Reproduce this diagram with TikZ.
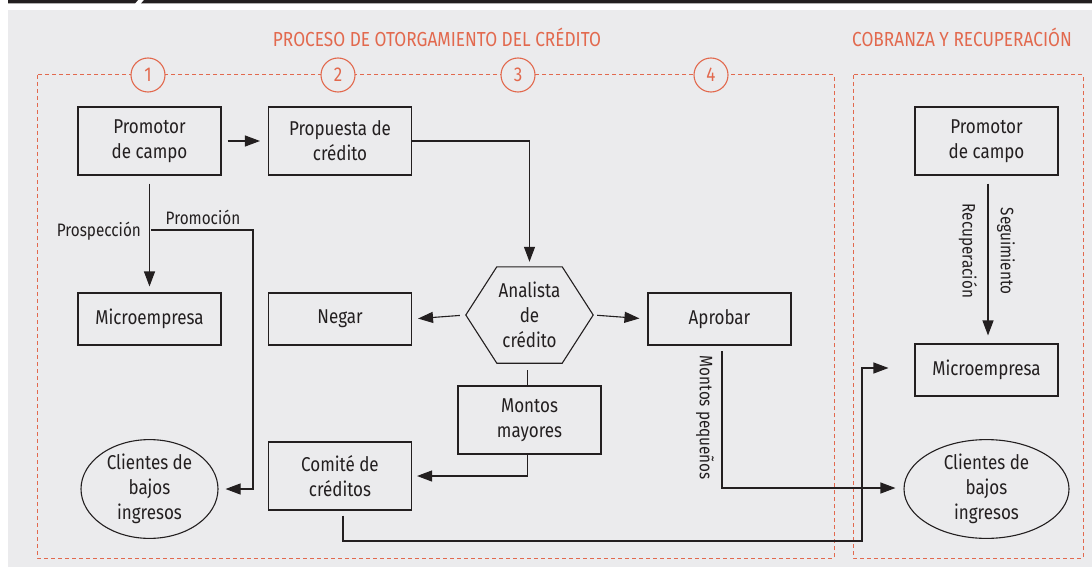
\documentclass[tikz,border=0pt]{standalone}
\usepackage{fontspec}
\setmainfont[FakeStretch=0.85]{Fira Sans}
\usetikzlibrary{arrows.meta,shapes.geometric,calc}
\definecolor{bg}{HTML}{EBEBED}
\definecolor{org}{HTML}{E2694E}
\definecolor{ink}{HTML}{231F20}
\begin{document}
\begin{tikzpicture}[x=1pt,y=-1pt,
  box/.style={draw=ink, line width=1.1pt, minimum width=143pt, minimum height=68pt, align=center, text=ink, inner sep=0pt, font=\fontsize{20}{25}\selectfont},
  sbox/.style={box, minimum height=52pt},
  ell/.style={draw=ink, line width=1.1pt, ellipse, inner sep=0pt, align=center, text=ink, font=\fontsize{20}{25}\selectfont},
  conn/.style={draw=ink, line width=1.1pt},
  arr/.style={conn, -{Triangle[length=15pt,width=11pt]}},
  lbl/.style={text=ink, font=\fontsize{18}{20}\selectfont, inner sep=0pt},
  zone/.style={draw=org, line width=1pt, dash pattern=on 4pt off 3pt},
  num/.style={circle, draw=org, fill=bg, line width=1.1pt, minimum size=34pt, inner sep=0pt, text=org, font=\fontsize{20}{22}\selectfont},
  ttl/.style={text=org, font=\fontsize{20.3}{24}\selectfont, inner sep=0pt},
  hexb/.style={minimum width=127pt, minimum height=96pt, inner sep=0pt, align=center, text=ink, font=\fontsize{20}{25}\selectfont}
]
\useasboundingbox (0,0) rectangle (1092,567);
% background
\fill[bg] (8,10) rectangle (1092,567);
\fill[ink] (8,0) -- (138,0) -- (135,3.5) -- (8,3.5) -- cycle;
\fill[ink] (144,0) -- (1092,0) -- (1092,3.5) -- (141,3.5) -- cycle;

% titles
\node[ttl] (t1) at (437,37) {PROCESO DE OTORGAMIENTO DEL CRÉDITO};
\node[ttl] (t2) at (962,37) {COBRANZA Y RECUPERACIÓN};

% zones
\draw[zone] (37,75) rectangle (834,558);
\draw[zone] (853,75) rectangle (1083,558);
\node[num] (n1) at (148,75) {1};
\node[num] (n2) at (338,75) {2};
\node[num] (n3) at (518,75) {3};
\node[num] (n4) at (711,75) {4};

% nodes left zone
\node[box] (prom) at (149.5,141) {Promotor\\de campo};
\node[box] (prop) at (340,141) {Propuesta de\\crédito};
\node[sbox] (micro) at (149.5,319) {Microempresa};
\node[sbox] (neg) at (340,319) {Negar};
\node[sbox] (apr) at (719.5,319) {Aprobar};
\node[box] (mon) at (529.5,420) {Montos\\mayores};
\node[box] (com) at (340,476) {Comité de\\créditos};
\node[ell, minimum width=137pt, minimum height=84pt] (cli) at (149.5,489) {Clientes de\\bajos\\ingresos};
\node[hexb] (ana) at (529.5,315) {Analista\\de\\crédito};
\draw[ink, line width=1.1pt] (ana.west) -- ($(ana.north west)+(31,0)$) -- ($(ana.north east)+(-31,0)$) -- (ana.east) -- ($(ana.south east)+(-31,0)$) -- ($(ana.south west)+(31,0)$) -- cycle;

% right zone
\node[box] (prom2) at (986.5,141) {Promotor\\de campo};
\node[sbox] (micro2) at (986.5,370) {Microempresa};
\node[ell, minimum width=165pt, minimum height=88pt] (cli2) at (986.5,489) {Clientes de\\bajos\\ingresos};

% connectors
\draw[arr, shorten <=6pt, shorten >=8pt] (prom.east) -- (prop.west);
\draw[arr, shorten >=5pt] (prop.east) -| (ana.north);
\draw[arr, shorten <=8pt, shorten >=6pt] (prom.south) -- node[lbl, pos=0.48, anchor=east, xshift=-8pt] (plbl) {Prospección} (micro.north);
\coordinate (pj) at (151,230);
\coordinate (pk) at (253,230);
\draw[arr, shorten >=7pt] (pj) -- (pk) |- (cli.east);
\node[lbl, anchor=south] (prlbl) at (203,225) {Promoción};
\draw[arr, shorten <=6pt, shorten >=6pt] (ana.west) -- (neg.east);
\draw[arr, shorten <=4pt, shorten >=8pt] (ana.east) -- (apr.west);
\draw[conn] ($(ana.south)+(-2,7)$) -- ($(mon.north)+(-2,0)$);
\draw[arr, shorten >=5pt] ($(mon.south)+(-2,0)$) |- (com.east);
\coordinate (c1) at (343,541);
\coordinate (c2) at (862,541);
\coordinate (c3) at (862,368);
\draw[arr, shorten >=26pt] ($(com.south)+(3,5)$) -- (c1) -- (c2) -- (c3) -- (micro2.west |- c3);
\coordinate (ap1) at (722,351);
\coordinate (ap2) at (722,488);
\draw[arr, shorten >=8pt] (ap1) -- (ap2) -- (cli2.west |- ap2);
\node[lbl, rotate=-90] (mplbl) at (705,418) {Montos pequeños};
\draw[arr, shorten <=8pt, shorten >=8pt] ($(prom2.south)+(1.5,0)$) -- ($(micro2.north)+(1.5,0)$);
\node[lbl, rotate=-90] (rec) at (968,251) {Recuperación};
\node[lbl, rotate=-90] (seg) at (1006,251) {Seguimiento};
\end{tikzpicture}
\end{document}
